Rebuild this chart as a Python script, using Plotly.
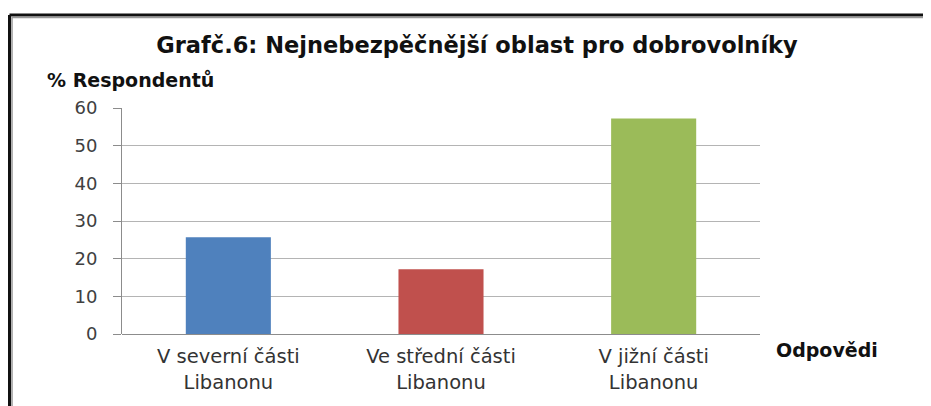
import plotly.graph_objects as go

categories = ["V severní části<br>Libanonu", "Ve střední části<br>Libanonu", "V jižní části<br>Libanonu"]
values = [25.7, 17.2, 57.2]
colors = ["#4F81BD", "#C0504D", "#9BBB59"]
tick_vals = [0, 10, 20, 30, 40, 50, 60]

# page body has an 8px margin; figure coordinates = reference pixels - 8
OFF = 8
W, H = 931 - OFF, 406 - OFF
L, R, T, B = 122 - OFF, 760 - OFF, 108 - OFF, 334 - OFF

def px(x):
    return (x - OFF - L) / (R - L)

def py(y):
    return (B - (y - OFF)) / (B - T)

fig = go.Figure(go.Bar(x=categories, y=values, marker=dict(color=colors, line=dict(width=0)), width=0.4))

shapes = [
    dict(type="line", xref="paper", yref="paper", x0=px(9.5), x1=px(940), y0=py(15), y1=py(15), line=dict(color="#111", width=3)),
    dict(type="line", xref="paper", yref="paper", x0=px(9.5), x1=px(9.5), y0=py(15), y1=py(420), line=dict(color="#111", width=3)),
    dict(type="line", xref="paper", yref="paper", x0=px(11.5), x1=px(940), y0=py(17.5), y1=py(17.5), line=dict(color="#999", width=1.5)),
    dict(type="line", xref="paper", yref="paper", x0=px(12), x1=px(12), y0=py(17.5), y1=py(420), line=dict(color="#999", width=1.5)),
]

fig.update_layout(
    width=W, height=H,
    margin=dict(l=L, r=W - R, t=T, b=H - B, pad=0),
    paper_bgcolor="white", plot_bgcolor="white",
    showlegend=False,
    bargap=0.6,
    font=dict(family="DejaVu Sans", color="#404040"),
    title=dict(text="<b>Grafč.6: Nejnebezpěčnější oblast pro dobrovolníky</b>", x=(477 - OFF) / W, xanchor="center",
               y=1 - (45 - OFF) / H, yanchor="middle", font=dict(family="DejaVu Sans", size=22.5, color="#111")),
    xaxis=dict(automargin=False, showgrid=False, showline=False, ticks="outside", ticklen=5, tickcolor="rgba(0,0,0,0)",
               tickfont=dict(size=19.5, color="#333")),
    yaxis=dict(automargin=False, range=[0, 60], tickvals=tick_vals, showgrid=True, gridcolor="#B4B4B4", gridwidth=1,
               showline=True, linecolor="#8C8C8C", linewidth=1, ticks="outside", ticklen=8, tickcolor="#8C8C8C",
               ticklabelstandoff=12,
               tickfont=dict(size=18, color="#404040"), zeroline=True, zerolinecolor="#8C8C8C", zerolinewidth=1),
    shapes=shapes,
    annotations=[
        dict(text="<b>% Respondentů</b>", xref="paper", yref="paper", x=px(45), y=py(80), xanchor="left", yanchor="middle",
             showarrow=False, font=dict(size=19, color="#111")),
        dict(text="<b>Odpovědi</b>", xref="paper", yref="paper", x=px(774), y=py(350), xanchor="left", yanchor="middle",
             showarrow=False, font=dict(size=19, color="#111")),
    ],
)

fig.write_html("out.html")
